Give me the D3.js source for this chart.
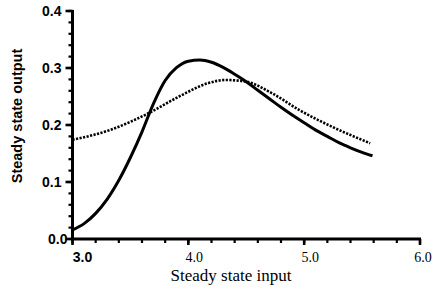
<!DOCTYPE html>
<html>
<head>
<meta charset="utf-8">
<script src="https://cdn.jsdelivr.net/npm/d3@7"></script>
<style>
html,body{margin:0;padding:0;background:#fff;}
svg{display:block;}
</style>
</head>
<body>
<svg id="chart" width="434" height="290"></svg>
<script>
// Data
const solidX = [3.0, 3.1, 3.2, 3.3, 3.4, 3.5, 3.6, 3.7, 3.8, 3.9, 4.0, 4.1, 4.2, 4.3, 4.4, 4.5, 4.6, 4.7, 4.8, 4.9, 5.0, 5.1, 5.2, 5.3, 5.4, 5.5, 5.59];
const solidY = [0.016, 0.027, 0.045, 0.070, 0.103, 0.143, 0.188, 0.238, 0.278, 0.301, 0.312, 0.314, 0.310, 0.301, 0.289, 0.276, 0.261, 0.246, 0.231, 0.217, 0.204, 0.191, 0.180, 0.169, 0.160, 0.152, 0.146];
const dottedX = [3.00, 3.32, 3.66, 3.92, 4.18, 4.32, 4.50, 4.72, 4.96, 5.24, 5.57];
const dottedY = [0.174, 0.191, 0.221, 0.250, 0.274, 0.279, 0.276, 0.256, 0.226, 0.197, 0.168];
const xTicks = [3.0, 4.0, 5.0, 6.0];
const xTickLabels = ["3.0", "4.0", "5.0", "6.0"];
const yTicks = [0.0, 0.1, 0.2, 0.3, 0.4];
const yTickLabels = ["0.0", "0.1", "0.2", "0.3", "0.4"];
const xTitle = "Steady state input";
const yTitle = "Steady state output";

const svg = d3.select("#chart");
const x = d3.scaleLinear().domain([3, 6]).range([72.5, 420]);
const y = d3.scaleLinear().domain([0, 0.4]).range([239, 11]);

// minor ticks
const xMinor = d3.range(3, 6.0001, 0.2);
const yMinor = d3.range(0, 0.4001, 0.02);

const g = svg.append("g");

// X axis
g.selectAll(".xminor").data(xMinor).enter().append("line")
  .attr("x1", d => x(d)).attr("x2", d => x(d))
  .attr("y1", y(0)).attr("y2", y(0) + 4)
  .attr("stroke", "#000").attr("stroke-width", 2.2);
g.selectAll(".xmajor").data(xTicks).enter().append("line")
  .attr("x1", d => x(d)).attr("x2", d => x(d))
  .attr("y1", y(0)).attr("y2", y(0) + 6)
  .attr("stroke", "#000").attr("stroke-width", 2.6);
g.append("line")
  .attr("x1", x(3) - 1.5).attr("x2", x(6) + 1)
  .attr("y1", y(0)).attr("y2", y(0))
  .attr("stroke", "#000").attr("stroke-width", 3);

// Y axis
g.selectAll(".yminor").data(yMinor).enter().append("line")
  .attr("x1", x(3) - 4).attr("x2", x(3))
  .attr("y1", d => y(d)).attr("y2", d => y(d))
  .attr("stroke", "#000").attr("stroke-width", 2.2);
g.selectAll(".ymajor").data(yTicks).enter().append("line")
  .attr("x1", x(3) - 7).attr("x2", x(3))
  .attr("y1", d => y(d)).attr("y2", d => y(d))
  .attr("stroke", "#000").attr("stroke-width", 2.6);
g.append("line")
  .attr("x1", x(3)).attr("x2", x(3))
  .attr("y1", y(0.4) - 1).attr("y2", y(0) + 1.5)
  .attr("stroke", "#000").attr("stroke-width", 3);

// Y tick labels
g.selectAll(".ylab").data(yTicks).enter().append("text")
  .attr("x", (d, i) => i === 0 ? x(3) - 5 : x(3) - 11)
  .attr("y", d => y(d) + 5)
  .attr("text-anchor", "end")
  .attr("font-family", "Liberation Sans, Arial, sans-serif")
  .attr("font-weight", "bold")
  .attr("font-size", 14)
  .text((d, i) => yTickLabels[i]);

// X tick labels
g.selectAll(".xlab").data(xTicks).enter().append("text")
  .attr("x", (d, i) => x(d) + (i === 0 ? 10 : i === 3 ? 3 : 6))
  .attr("y", y(0) + 23)
  .attr("text-anchor", "middle")
  .attr("font-family", (d, i) => i === 0 ? "Liberation Sans, Arial, sans-serif" : "Liberation Serif, Times New Roman, serif")
  .attr("font-weight", (d, i) => i === 0 ? "bold" : "normal")
  .attr("font-size", 14)
  .text((d, i) => xTickLabels[i]);

// Titles
g.append("text")
  .attr("x", 231).attr("y", 281)
  .attr("text-anchor", "middle")
  .attr("font-family", "Liberation Serif, Times New Roman, serif")
  .attr("font-size", 17)
  .text(xTitle);
g.append("text")
  .attr("transform", "translate(22,116) rotate(-90)")
  .attr("text-anchor", "middle")
  .attr("font-family", "Liberation Sans, Arial, sans-serif")
  .attr("font-weight", "bold")
  .attr("font-size", 14.5)
  .text(yTitle);

// Curves
const line = d3.line().x(d => x(d[0])).y(d => y(d[1])).curve(d3.curveMonotoneX);
const solid = solidX.map((v, i) => [v, solidY[i]]);
const dotted = dottedX.map((v, i) => [v, dottedY[i]]);

g.append("path").attr("d", line(dotted))
  .attr("fill", "none").attr("stroke", "#000")
  .attr("stroke-width", 2.6).attr("stroke-dasharray", "2.2,1.4");
g.append("path").attr("d", line(solid))
  .attr("fill", "none").attr("stroke", "#000")
  .attr("stroke-width", 3);
</script>
</body>
</html>
